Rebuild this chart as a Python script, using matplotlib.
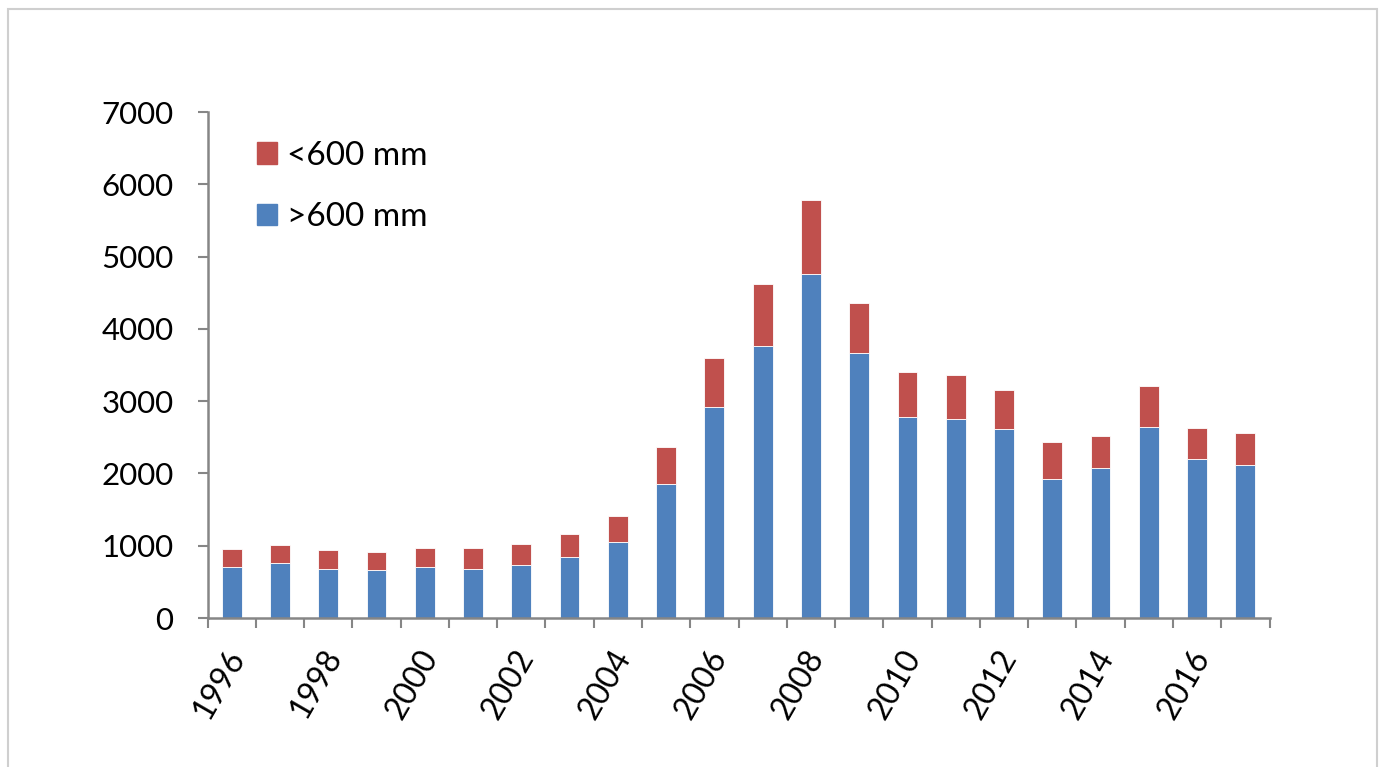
import numpy as np
import matplotlib.pyplot as plt
from matplotlib.patches import Rectangle, Patch
from matplotlib.transforms import ScaledTranslation

# --- data ---
years = list(range(1996, 2018))
over_600 = [710, 757, 674, 664, 701, 682, 737, 848, 1055, 1849, 2914,
            3758, 4754, 3661, 2776, 2757, 2610, 1918, 2070, 2637, 2199, 2112]
under_600 = [244, 253, 262, 249, 271, 282, 287, 310, 360, 512, 686,
             857, 1023, 696, 622, 604, 539, 516, 443, 568, 429, 443]
yticks = [0, 1000, 2000, 3000, 4000, 5000, 6000, 7000]

BLUE = "#4F81BD"
RED = "#C0504D"
AXIS = "#868686"

plt.rcParams['font.family'] = ['Lato', 'DejaVu Sans']

W, H = 1382, 767
fig = plt.figure(figsize=(W / 100, H / 100), dpi=100)
ax = fig.add_axes([207.5 / W, (H - 618) / H, (1269.5 - 207.5) / W, (618 - 112) / H])

x = np.arange(len(years))
ax.bar(x, over_600, width=0.41, color=BLUE, edgecolor="white", linewidth=0.6)
ax.bar(x, under_600, width=0.41, bottom=over_600, color=RED, edgecolor="white", linewidth=0.6)

ax.set_xlim(-0.5, len(years) - 0.5)
ax.set_ylim(0, 7000)
ax.set_yticks(yticks)
ax.set_yticklabels([str(v) for v in yticks])

# labels every other year, tick marks between categories
ax.set_xticks(x[::2])
ax.set_xticklabels([str(y) for y in years[::2]], rotation=60, ha="right",
                   rotation_mode="anchor")
ax.set_xticks(np.arange(-0.5, len(years)), minor=True)
ax.tick_params(axis="x", which="major", length=0, pad=19, labelsize=23)
ax.tick_params(axis="x", which="minor", length=7.5, width=1.5, color=AXIS, direction="out")
ax.tick_params(axis="y", length=7.5, width=1.5, color=AXIS, pad=17, labelsize=22.5)
shift = ScaledTranslation(-7 / 100, 0, fig.dpi_scale_trans)
for lab in ax.get_xticklabels():
    lab.set_transform(lab.get_transform() + shift)

for s in ["top", "right"]:
    ax.spines[s].set_visible(False)
for s in ["left", "bottom"]:
    ax.spines[s].set_color(AXIS)
    ax.spines[s].set_linewidth(1.8)

handles = [Patch(color=RED, label="<600 mm"), Patch(color=BLUE, label=">600 mm")]
ax.legend(handles=handles, loc="upper left", bbox_to_anchor=(230 / W, 1 - 114 / H),
          bbox_transform=fig.transFigure, frameon=False, fontsize=24, borderpad=0.3,
          handlelength=0.6, handleheight=0.6, handletextpad=0.3, labelspacing=0.95)

# outer chart border
fig.add_artist(Rectangle((8 / W, -0.02), (1377 - 8) / W, 1.02 - 9 / H,
                         transform=fig.transFigure, fill=False,
                         edgecolor="#CFCFCF", linewidth=1.5))

fig.savefig("out.png", dpi=100)
